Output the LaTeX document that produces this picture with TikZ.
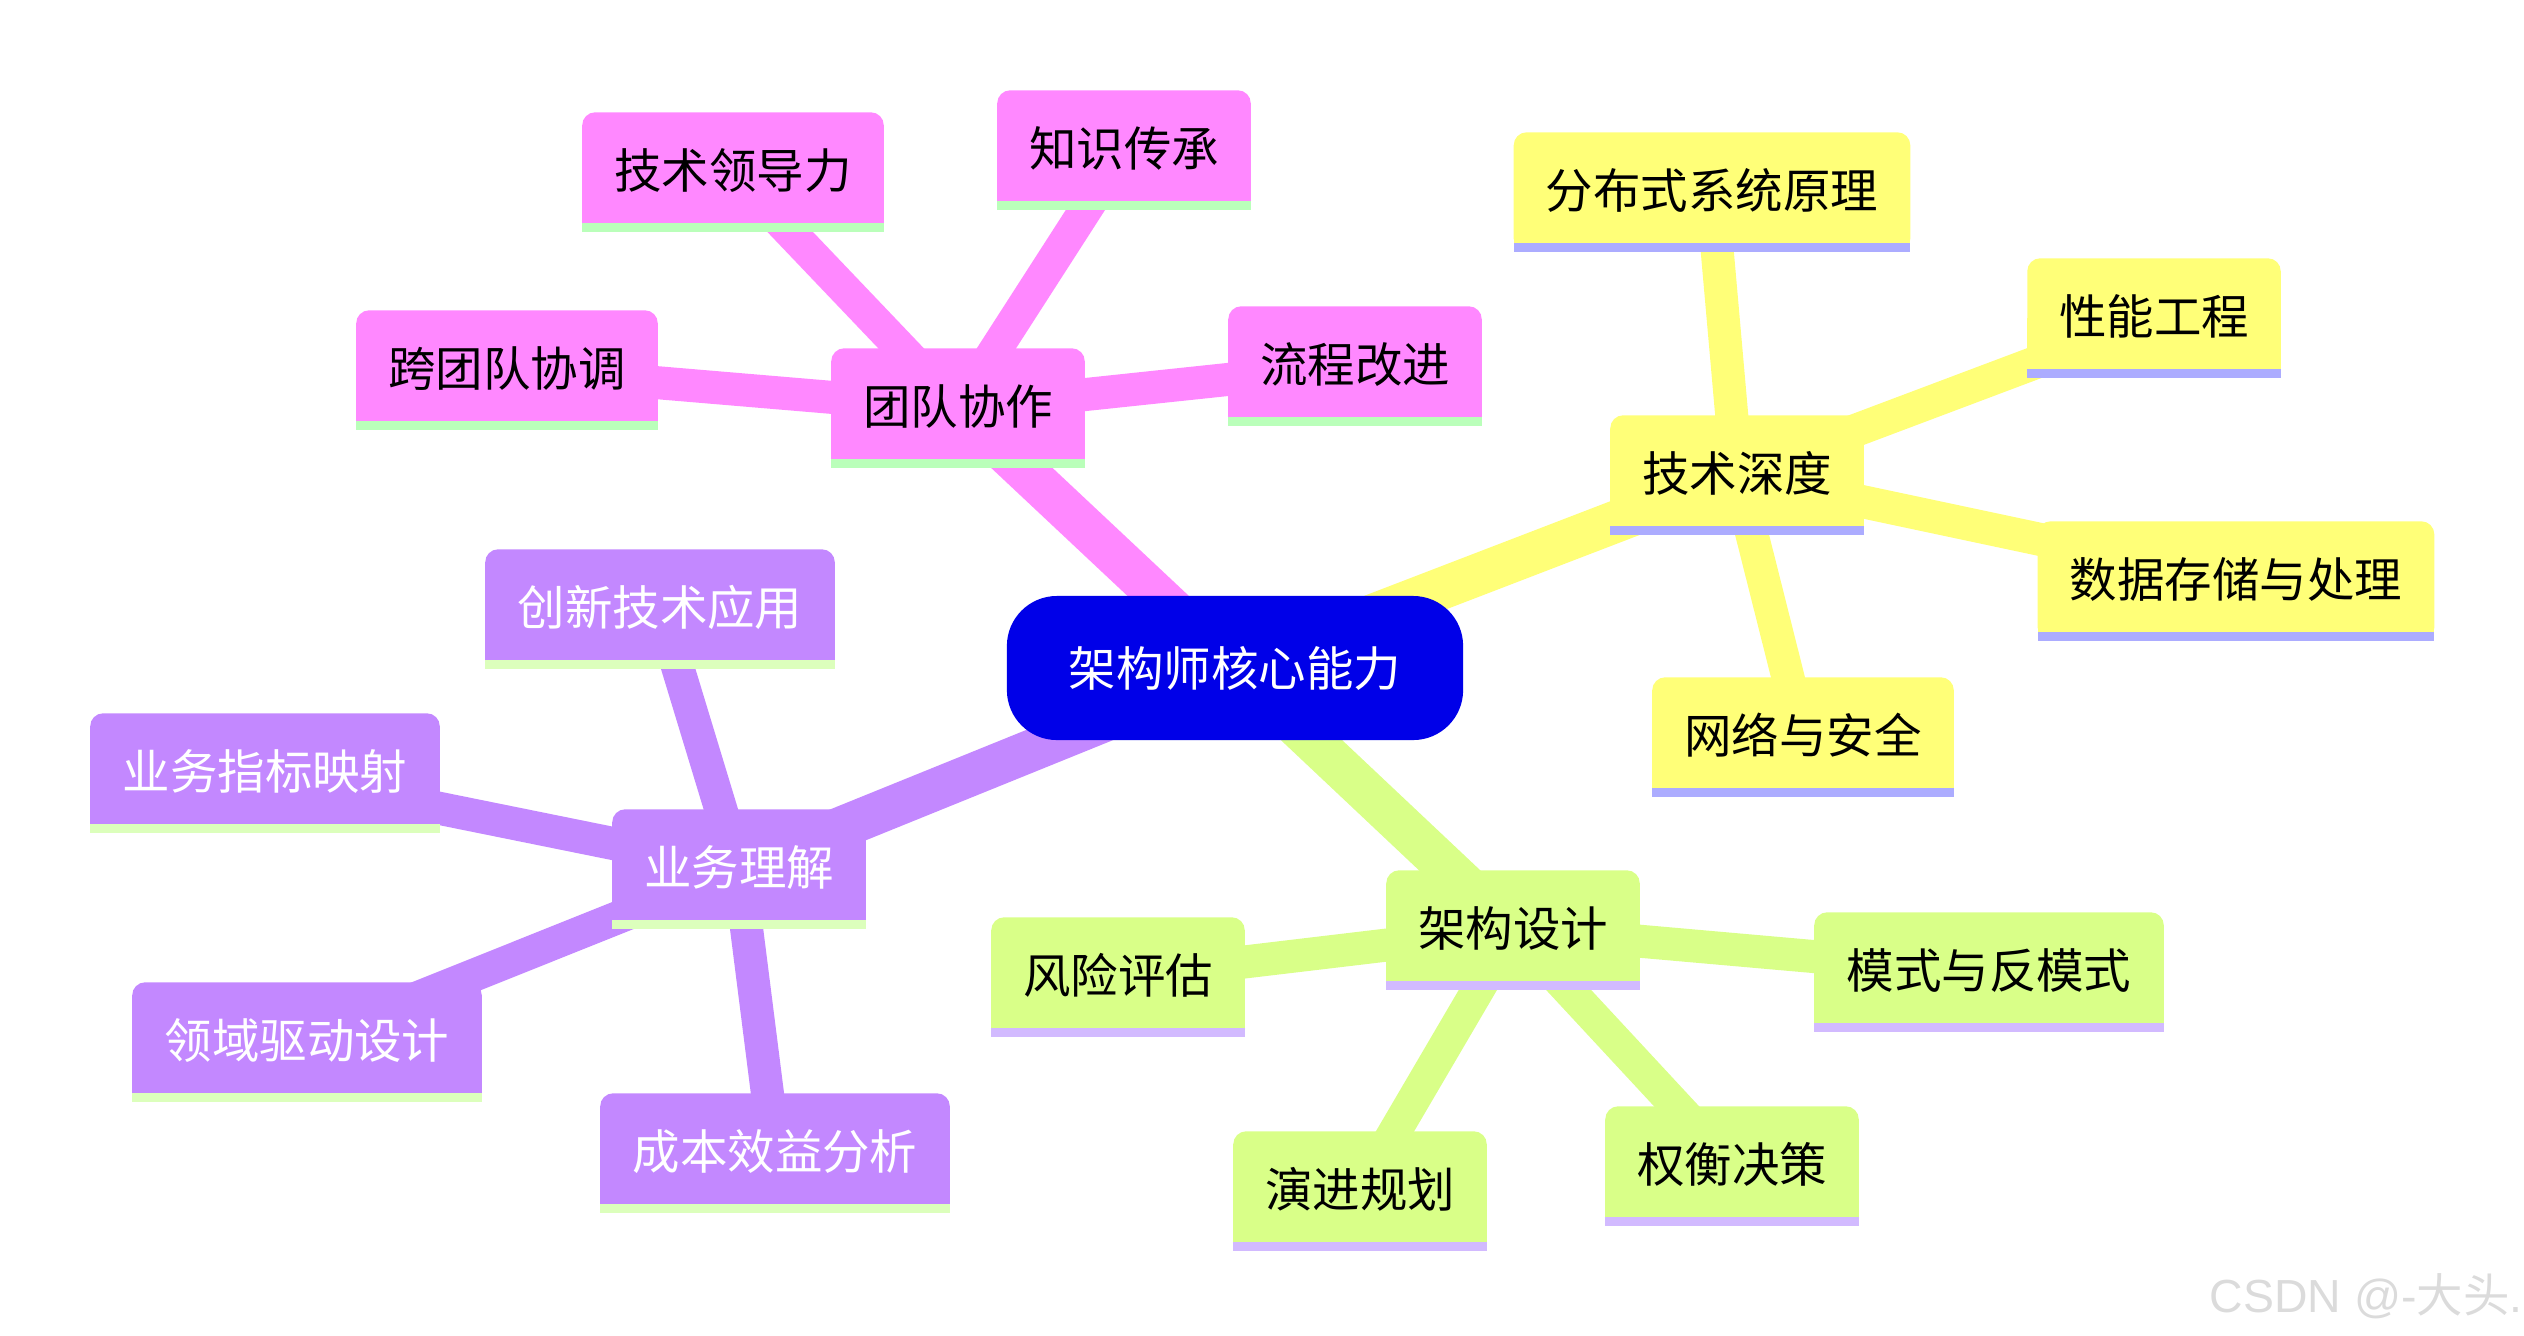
\documentclass[tikz,border=0pt]{standalone}
\usepackage{fontspec}
\setmainfont{Noto Sans CJK SC}
\newfontfamily\wmfont{Liberation Sans}
\newfontfamily\wmcjk{Noto Sans CJK SC}
\definecolor{rootblue}{HTML}{0000E8}
\definecolor{pinkf}{HTML}{FF88FF}
\definecolor{pinkl}{HTML}{BAFFBA}
\definecolor{yelf}{HTML}{FFFF78}
\definecolor{yell}{HTML}{ACACFF}
\definecolor{grnf}{HTML}{D9FF88}
\definecolor{grnl}{HTML}{D2BAFF}
\definecolor{purf}{HTML}{C388FF}
\definecolor{purl}{HTML}{DCFFBC}
\newcommand\nodefont{\fontsize{13.5pt}{16pt}\selectfont}
\pgfdeclarelayer{edgel}
\pgfdeclarelayer{shapel}
\pgfsetlayers{edgel,shapel,main}
\tikzset{
  mm/.style={rectangle, minimum width=#1, minimum height=1.18cm, inner sep=0pt,
    text height=0.43cm, text depth=0.10cm, font=\nodefont, text=black},
  rootnode/.style={rectangle, rounded corners=0.5cm, fill=rootblue, text=white,
    minimum width=4.56cm, minimum height=1.44cm, inner sep=0pt, font=\nodefont},
  rootedge/.style={line width=0.42cm, draw=#1},
  subedge/.style={line width=0.33cm, draw=#1},
}
\newcommand\mmshape[3]{%
  \begin{pgfonlayer}{shapel}
    \fill[#2, rounded corners=0.13cm] (#1.south west) rectangle (#1.north east);
    \fill[#2] (#1.west) rectangle (#1.south east);
    \fill[#3] (#1.south west) rectangle ([yshift=0.09cm]#1.south east);
  \end{pgfonlayer}}
\begin{document}
\begin{tikzpicture}[x=0.01cm, y=-0.01cm]
\useasboundingbox (0,0) rectangle (2524,1335);

% root
\node[rootnode] (root) at (1235,668) {架构师核心能力};

% pink section
\node[mm=2.52cm] (tdxz) at (958,408) {团队协作};
\node[mm=3.00cm] (jsldl) at (733,172) {技术领导力};
\node[mm=2.52cm] (zscc) at (1124,150) {知识传承};
\node[mm=3.00cm] (ktdxt) at (507,370) {跨团队协调};
\node[mm=2.52cm] (lcgj) at (1355,366) {流程改进};
\foreach \n in {tdxz,jsldl,zscc,ktdxt,lcgj} {\mmshape{\n}{pinkf}{pinkl}}

% yellow section
\node[mm=2.52cm] (jssd) at (1737,475) {技术深度};
\node[mm=3.95cm] (fbs) at (1712,192) {分布式系统原理};
\node[mm=2.52cm] (xngc) at (2154,318) {性能工程};
\node[mm=3.95cm] (sjcc) at (2236,581) {数据存储与处理};
\node[mm=3.00cm] (wlaq) at (1803,737) {网络与安全};
\foreach \n in {jssd,fbs,xngc,sjcc,wlaq} {\mmshape{\n}{yelf}{yell}}

% green section
\node[mm=2.52cm] (jgsj) at (1513,930) {架构设计};
\node[mm=2.52cm] (fxpg) at (1118,977) {风险评估};
\node[mm=3.48cm] (msfms) at (1989,972) {模式与反模式};
\node[mm=2.52cm] (yjgh) at (1360,1191) {演进规划};
\node[mm=2.52cm] (qhjc) at (1732,1166) {权衡决策};
\foreach \n in {jgsj,fxpg,msfms,yjgh,qhjc} {\mmshape{\n}{grnf}{grnl}}

% purple section
\node[mm=2.52cm, text=white] (ywlj) at (739,869) {业务理解};
\node[mm=3.48cm, text=white] (cxjs) at (660,609) {创新技术应用};
\node[mm=3.48cm, text=white] (ywzb) at (265,773) {业务指标映射};
\node[mm=3.48cm, text=white] (lyqd) at (307,1042) {领域驱动设计};
\node[mm=3.48cm, text=white] (cbxy) at (775,1153) {成本效益分析};
\foreach \n in {ywlj,cxjs,ywzb,lyqd,cbxy} {\mmshape{\n}{purf}{purl}}

% edges
\begin{pgfonlayer}{edgel}
  \draw[rootedge=pinkf] (root.center) -- (tdxz.center);
  \draw[rootedge=yelf] (root.center) -- (jssd.center);
  \draw[rootedge=grnf] (root.center) -- (jgsj.center);
  \draw[rootedge=purf] (root.center) -- (ywlj.center);
  \foreach \n in {jsldl,zscc,ktdxt,lcgj} {\draw[subedge=pinkf] (tdxz.center) -- (\n.center);}
  \foreach \n in {fbs,xngc,sjcc,wlaq} {\draw[subedge=yelf] (jssd.center) -- (\n.center);}
  \foreach \n in {fxpg,msfms,yjgh,qhjc} {\draw[subedge=grnf] (jgsj.center) -- (\n.center);}
  \foreach \n in {cxjs,ywzb,lyqd,cbxy} {\draw[subedge=purf] (ywlj.center) -- (\n.center);}
\end{pgfonlayer}

% watermark
\node[anchor=base west, inner sep=0pt, text=black!14, font=\fontsize{13.2pt}{15pt}\selectfont] (wm) at (2209,1312) {\wmfont CSDN @-\wmcjk 大头\wmfont .};
\end{tikzpicture}
\end{document}
